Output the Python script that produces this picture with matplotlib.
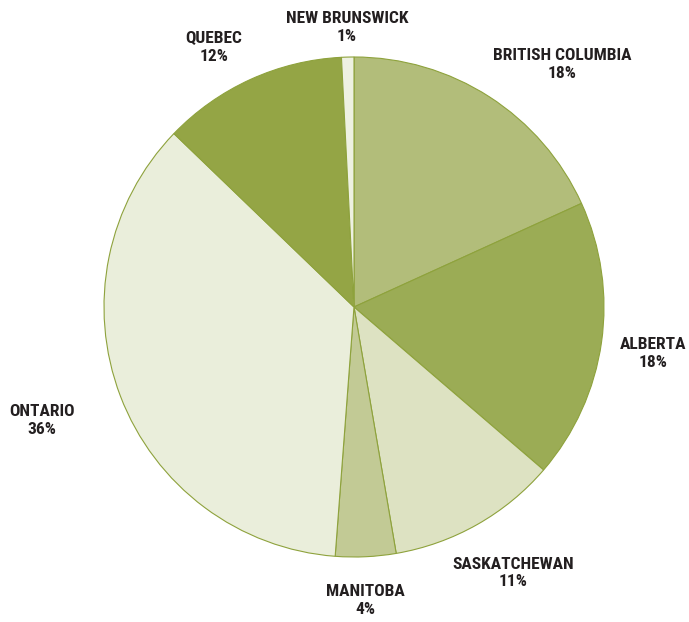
import matplotlib
matplotlib.use("Agg")
import matplotlib.pyplot as plt
import numpy as np

provinces = ["BRITISH COLUMBIA", "ALBERTA", "SASKATCHEWAN", "MANITOBA",
             "ONTARIO", "QUEBEC", "NEW BRUNSWICK"]
shares = [18.2, 18.1, 11.0, 3.9, 36.0, 12.0, 0.8]
colors = ["#b2bd7a", "#9bac55", "#dde2c2", "#c2ca95", "#eaeedb", "#94a545", "#eef1e2"]

# label placement: distance (in pie radii) and angle nudge (degrees)
label_dist = [1.28, 1.212, 1.24, 1.176, 1.327, 1.18, 1.118]
label_nudge = [-7.9, -0.7, 1.4, -0.4, -0.9, 3.9, 0.0]

plt.rcParams['font.family'] = ['Roboto Condensed', 'DejaVu Sans']

W, H = 689, 622
cx, cy, r = 354, 307, 250
fig = plt.figure(figsize=(W / 100, H / 100), dpi=100)
ax = fig.add_axes([(cx - r) / W, (H - cy - r) / H, 2 * r / W, 2 * r / H])

wedges, _ = ax.pie(shares, colors=colors, startangle=90, counterclock=False,
                   radius=1, wedgeprops=dict(edgecolor="#8ea23c", linewidth=0.8))
ax.set_xlim(-1, 1)
ax.set_ylim(-1, 1)
ax.set_aspect("equal")
ax.axis("off")

for w, name, val, d, nudge in zip(wedges, provinces, shares, label_dist, label_nudge):
    mid = np.deg2rad((w.theta1 + w.theta2) / 2 + nudge)
    ax.text(d * np.cos(mid), d * np.sin(mid), f"{name}\n{round(val)}%",
            ha="center", va="center", fontsize=12.5, fontweight="bold",
            fontstretch="condensed", color="#231f20", linespacing=1.22,
            clip_on=False)

fig.savefig("out.png", dpi=100)
